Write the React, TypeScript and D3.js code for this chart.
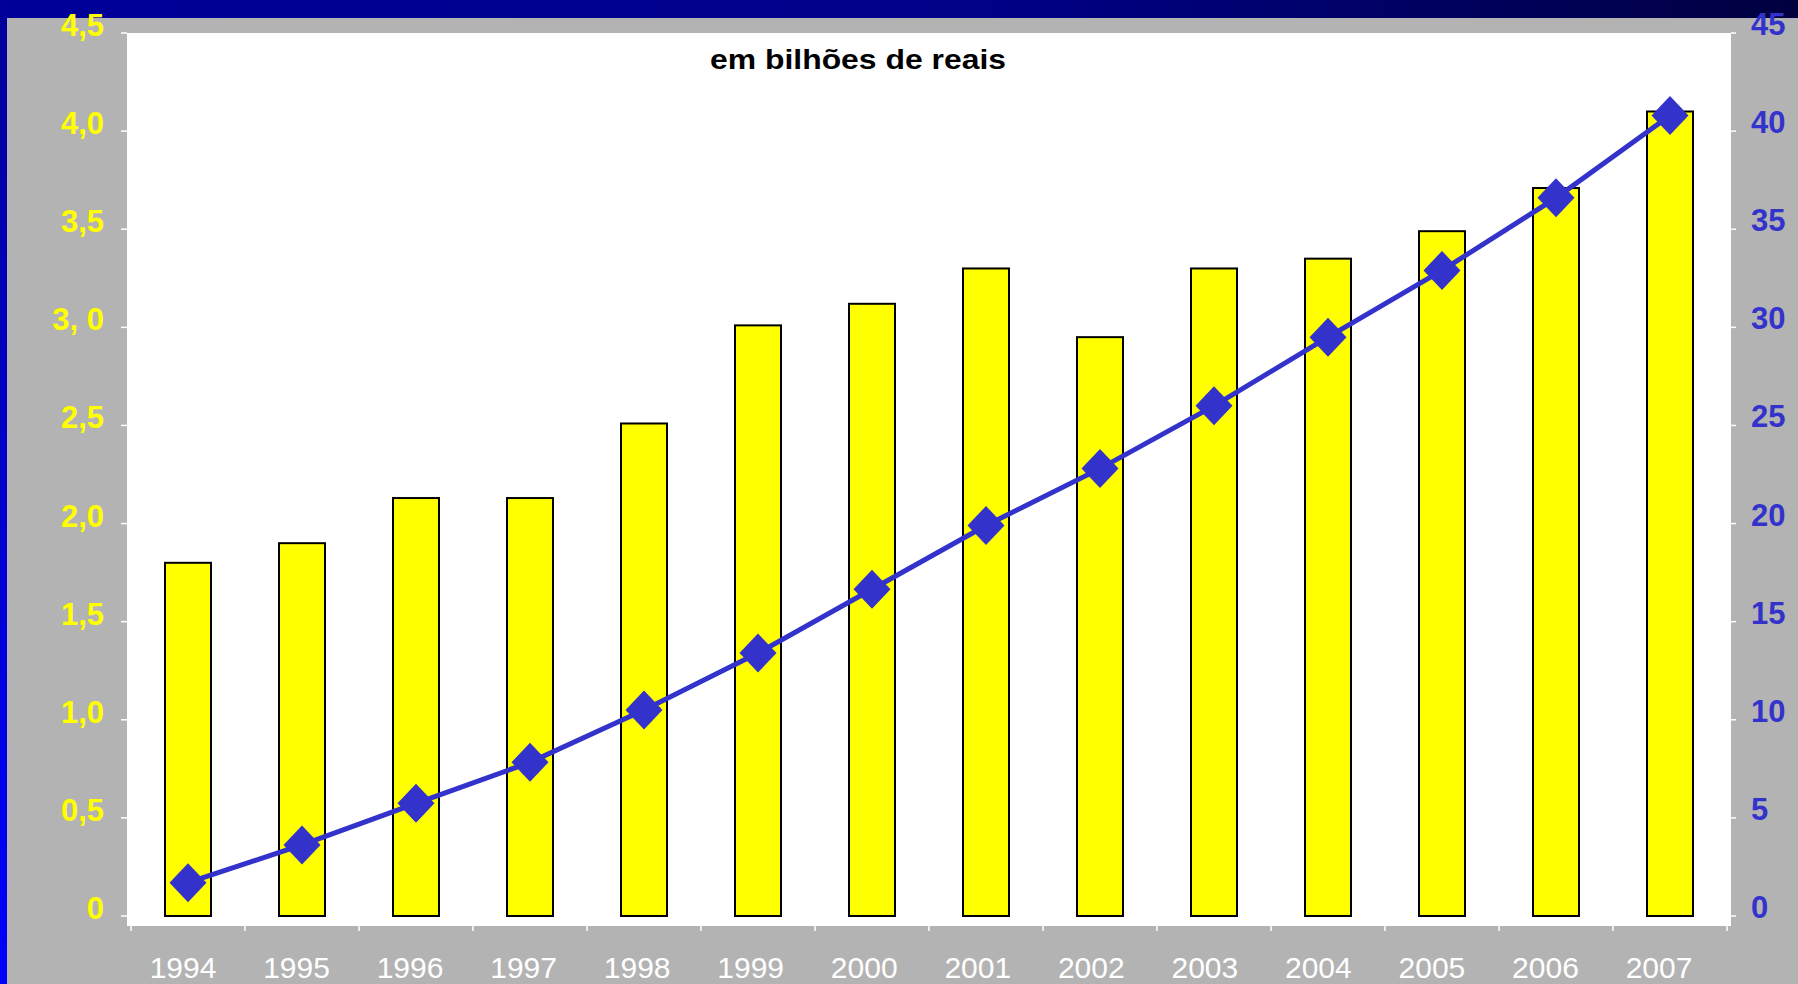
import React from "react";
import * as d3 from "d3";

const years = ["1994","1995","1996","1997","1998","1999","2000","2001","2002","2003","2004","2005","2006","2007"];
const barValues = [1.80, 1.90, 2.13, 2.13, 2.51, 3.01, 3.12, 3.30, 2.95, 3.30, 3.35, 3.49, 3.71, 4.10];
const lineValues = [1.70, 3.62, 5.74, 7.83, 10.5, 13.4, 16.65, 19.9, 22.8, 26.0, 29.5, 32.9, 36.6, 40.8];
const leftTicks = [0, 0.5, 1, 1.5, 2, 2.5, 3, 3.5, 4, 4.5];
const leftTickLabels = ["0", "0,5", "1,0", "1,5", "2,0", "2,5", "3, 0", "3,5", "4,0", "4,5"];
const rightTicks = [0, 5, 10, 15, 20, 25, 30, 35, 40, 45];
const rightTickLabels = ["0", "5", "10", "15", "20", "25", "30", "35", "40", "45"];
const title = "em bilhões de reais";

const W = 1798, H = 984;
const plot = { left: 127, right: 1731, top: 33, bottom: 926 };

export default function App() {
  React.useEffect(() => {
    document.body.style.margin = "0";
    document.body.style.overflow = "hidden";
  }, []);

  const x = d3.scaleBand().domain(years).range([131, 1727]).padding(0);
  const step = x.step();
  const barW = 46;
  const xLabel = d3.scalePoint().domain(years).range([183, 1659]);
  const yL = d3.scaleLinear().domain([0, 4.5]).range([916, 33]);
  const yR = d3.scaleLinear().domain([0, 45]).range([916, 33]);

  const cx = (c: string) => (x(c) as number) + step / 2;
  const line = d3.line<number>()
    .x((_, i) => cx(years[i]))
    .y((d) => yR(d));

  const dw = 18.5, dh = 19.5;
  const font = "Arial, 'Liberation Sans', Helvetica, sans-serif";

  return (
    <svg width={W} height={H} style={{ display: "block" }} fontFamily={font}>
      <defs>
        <linearGradient id="topg" x1="0" y1="0" x2="1" y2="0">
          <stop offset="0" stopColor="#000099" />
          <stop offset="0.55" stopColor="#000088" />
          <stop offset="1" stopColor="#000040" />
        </linearGradient>
        <linearGradient id="leftg" x1="0" y1="0" x2="0" y2="1">
          <stop offset="0" stopColor="#000099" />
          <stop offset="1" stopColor="#0000ff" />
        </linearGradient>
      </defs>
      <rect x={0} y={0} width={W} height={H} fill="#b3b3b3" />
      <rect x={0} y={0} width={W} height={18} fill="url(#topg)" />
      <rect x={0} y={0} width={7} height={H} fill="url(#leftg)" />

      <rect x={plot.left} y={plot.top} width={plot.right - plot.left} height={plot.bottom - plot.top} fill="#ffffff" />

      {/* left axis ticks */}
      {leftTicks.map((t, i) => (
        <g key={"lt" + i}>
          <line x1={121} x2={plot.left} y1={yL(t)} y2={yL(t)} stroke="#ffffff" strokeWidth={1.5} />
          <text x={104} y={yL(t) + 3} textAnchor="end" fill="#ffff00" fontWeight="bold" fontSize={31}>
            {leftTickLabels[i]}
          </text>
        </g>
      ))}
      {/* right axis ticks */}
      {rightTicks.map((t, i) => (
        <g key={"rt" + i}>
          <line x1={plot.right} x2={plot.right + 5} y1={yR(t)} y2={yR(t)} stroke="#ffffff" strokeWidth={1.5} />
          <text x={1751} y={yR(t) + 2} textAnchor="start" fill="#3333cc" fontWeight="bold" fontSize={31}>
            {rightTickLabels[i]}
          </text>
        </g>
      ))}
      {/* x axis ticks */}
      {[...years.map((c) => x(c) as number), (x(years[years.length - 1]) as number) + step].map((px, i) => (
        <line key={"xt" + i} x1={px} x2={px} y1={plot.bottom} y2={plot.bottom + 5} stroke="#ffffff" strokeWidth={1.5} />
      ))}
      {years.map((c) => (
        <text key={"xl" + c} x={xLabel(c)} y={978} textAnchor="middle" fill="#ffffff" fontSize={30}>
          {c}
        </text>
      ))}

      {/* bars */}
      {years.map((c, i) => (
        <rect
          key={"b" + c}
          x={cx(c) - barW / 2}
          y={yL(barValues[i])}
          width={barW}
          height={yL(0) - yL(barValues[i])}
          fill="#ffff00"
          stroke="#000000"
          strokeWidth={2}
        />
      ))}

      {/* line */}
      <path d={line(lineValues) || ""} fill="none" stroke="#3333cc" strokeWidth={5} />
      {lineValues.map((v, i) => {
        const px = cx(years[i]);
        const py = yR(v);
        return (
          <polygon
            key={"d" + i}
            points={`${px},${py - dh} ${px + dw},${py} ${px},${py + dh} ${px - dw},${py}`}
            fill="#3333cc"
          />
        );
      })}

      <text x={858} y={69} textAnchor="middle" fontWeight="bold" fontSize={28} fill="#000000"
        textLength={296} lengthAdjust="spacingAndGlyphs">
        {title}
      </text>
    </svg>
  );
}
